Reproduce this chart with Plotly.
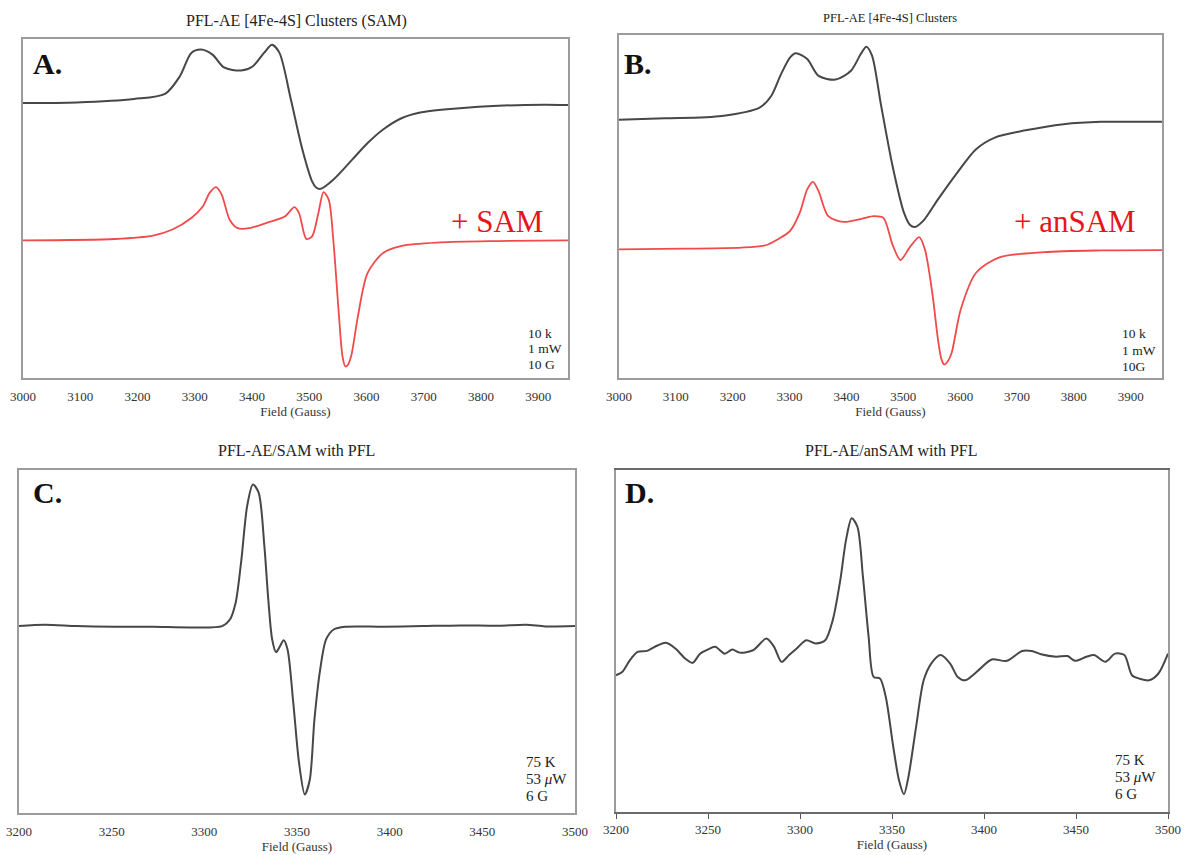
import plotly.graph_objects as go

W, H = 1184, 855
SERIF = "Liberation Serif, Times New Roman, serif"
BLACK_LINE = "#474747"
RED_LINE = "#f04a4a"
RED_TEXT = "#e8141c"
BOX = "#9c9c9c"

# ---------------- Data (intensity in arbitrary units, 0-100 box height) ----
# Panel A: PFL-AE [4Fe-4S] clusters, without / with SAM
a_field_black = [3000, 3094, 3194, 3248, 3274, 3294, 3311, 3331, 3351, 3381,
                 3401, 3421, 3435, 3448, 3468, 3488, 3505, 3512, 3520, 3542, 3575,
                 3602, 3629, 3662, 3696, 3763, 3830, 3910, 3952]
a_black = [81.1, 81.3, 82.3, 83.8, 89.0, 95.9, 96.9, 95.4, 91.6, 90.7,
           91.9, 95.9, 98.3, 95.9, 82.1, 67.4, 58.0, 56.2, 55.8, 58.5, 64.4,
           69.3, 73.3, 76.7, 78.4, 79.6, 80.3, 80.6, 80.5]
a_field_red = [3000, 3161, 3227, 3261, 3294, 3314, 3326, 3337, 3347, 3361,
               3375, 3395, 3428, 3458, 3474, 3482, 3495, 3505, 3516, 3525,
               3534, 3542, 3552, 3558, 3563, 3568, 3574, 3585, 3602, 3629, 3662, 3729,
               3830, 3952]
a_red = [40.6, 41.0, 42.0, 43.8, 47.2, 50.6, 54.6, 56.3, 54.1, 46.7,
         44.2, 44.2, 45.9, 47.7, 50.4, 48.7, 41.0, 41.8, 48.7, 54.8,
         52.6, 40.8, 18.2, 6.5, 3.4, 4.0, 7.0, 18.2, 31.0, 36.9, 39.0, 40.0,
         40.4, 40.6]

# Panel B: PFL-AE [4Fe-4S] clusters, without / with anSAM
b_field_black = [3000, 3081, 3181, 3248, 3268, 3285, 3301, 3311, 3331, 3351,
                 3381, 3408, 3425, 3435, 3445, 3461, 3481, 3501, 3512, 3520, 3535,
                 3561, 3595, 3628, 3661, 3715, 3782, 3848, 3915, 3955]
b_black = [75.3, 75.7, 76.4, 78.9, 82.3, 88.6, 93.5, 94.7, 93.0, 88.1,
           87.0, 89.6, 94.4, 96.6, 94.0, 79.4, 61.9, 48.3, 44.6, 44.0, 45.8,
           52.1, 59.9, 66.7, 70.1, 72.2, 74.0, 74.7, 74.7, 74.7]
b_field_red = [3000, 3115, 3215, 3258, 3281, 3301, 3318, 3331, 3341, 3351,
               3368, 3395, 3428, 3448, 3465, 3481, 3495, 3511, 3528, 3538,
               3551, 3561, 3567, 3572, 3578, 3585, 3601, 3628, 3668, 3748, 3848, 3955]
b_red = [37.5, 37.7, 38.0, 38.7, 40.6, 42.9, 48.2, 55.0, 57.2, 54.5,
         47.2, 45.5, 46.5, 47.2, 46.7, 38.9, 34.4, 38.0, 41.1, 37.5,
         24.8, 11.2, 5.5, 3.9, 4.8, 7.3, 20.0, 30.7, 35.1, 36.7, 37.2, 37.3]

# Panel C: PFL-AE/SAM with PFL
c_field = [3200, 3214, 3231, 3251.5, 3272, 3293, 3309.6, 3313.8, 3316.9, 3320,
           3323.1, 3326.2, 3329.3, 3332.4, 3334.5, 3336.6, 3338.7, 3340.8, 3342.8, 3344.9,
           3348, 3351.1, 3354.2, 3356.9, 3359.4, 3362.5, 3365.7, 3369.8, 3376, 3396.8,
           3417.6, 3438.3, 3459.1, 3473.6, 3484, 3500]
c_signal = [54.5, 54.9, 54.5, 54.3, 54.3, 54.1, 54.5, 56.4, 61.3, 73.9,
            89.5, 95.8, 93.4, 77.8, 62.3, 50.6, 46.9, 48.6, 50.4, 47.7,
            32.1, 14.6, 5.4, 9.7, 27.2, 41.8, 50.6, 53.5, 54.3, 54.3,
            54.5, 54.7, 54.6, 54.9, 54.4, 54.5]

# Panel D: PFL-AE/anSAM with PFL
d_field = [3200, 3203.5, 3207.6, 3211.7, 3216.9, 3221, 3227.2, 3232.3, 3237.5, 3241.6,
           3245.7, 3249.8, 3253.9, 3259.1, 3263.2, 3267.3, 3274.5, 3281.7, 3285.9, 3290,
           3294.1, 3298.2, 3303.4, 3308.5, 3313.7, 3317.8, 3321.9, 3325, 3328.1, 3331.2,
           3334.2, 3337.3, 3340, 3343.5, 3346.6, 3350.7, 3353.8, 3356.5, 3358.9, 3363.1,
           3367.2, 3371.3, 3376.4, 3381.6, 3385.7, 3389.8, 3393.9, 3398.1, 3404.2, 3412.5,
           3420.7, 3425.9, 3431, 3439.2, 3445.4, 3449.5, 3455.7, 3459.8, 3466, 3471.2,
           3476.3, 3480.4, 3484.5, 3489.7, 3494.8, 3500]
d_signal = [40.0, 41.0, 44.4, 46.8, 47.1, 48.3, 49.5, 47.8, 44.9, 43.6,
            46.3, 47.5, 48.3, 46.3, 47.5, 46.6, 47.3, 50.7, 48.3, 43.9,
            45.9, 47.8, 50.2, 49.3, 50.2, 56.1, 67.8, 79.5, 85.9, 83.4,
            68.8, 51.2, 39.5, 39.0, 33.7, 19.0, 9.3, 5.2, 10.2, 24.9,
            38.5, 43.4, 45.9, 43.4, 39.5, 38.5, 40.0, 42.0, 44.6, 44.2,
            47.1, 47.1, 46.1, 45.4, 45.6, 44.2, 45.4, 45.9, 43.9, 46.3,
            45.9, 40.0, 39.0, 38.5, 40.5, 46.3]

titles = ["PFL-AE [4Fe-4S] Clusters (SAM)", "PFL-AE [4Fe-4S] Clusters",
          "PFL-AE/SAM with PFL", "PFL-AE/anSAM with PFL"]
panel_letters = ["A.", "B.", "C.", "D."]
cond_a = ["10 k", "1 mW", "10 G"]
cond_b = ["10 k", "1 mW", "10G"]
cond_c = ["75 K", "53 <i>μ</i>W", "6 G"]
cond_d = ["75 K", "53 <i>μ</i>W", "6 G"]
ticks_top = [3000, 3100, 3200, 3300, 3400, 3500, 3600, 3700, 3800, 3900]
ticks_bottom = [3200, 3250, 3300, 3350, 3400, 3450, 3500]
x_title = "Field (Gauss)"


# ---------------- Layout helpers (screen pixel -> paper; body margin removed below) ----------
def px(x):
    return x / W


def py(y):
    return 1 - y / H


fig = go.Figure()

def line(xs, ys, color, axis, width=2.0):
    fig.add_trace(go.Scatter(x=xs, y=ys, mode="lines", xaxis="x" + axis, yaxis="y" + axis,
                             line=dict(color=color, width=width, shape="spline", smoothing=0.8),
                             hoverinfo="skip", showlegend=False))

line(a_field_black, a_black, BLACK_LINE, "")
line(a_field_red, a_red, RED_LINE, "", 1.8)
line(b_field_black, b_black, BLACK_LINE, "2")
line(b_field_red, b_red, RED_LINE, "2", 1.8)
line(c_field, c_signal, BLACK_LINE, "3")
line(d_field, d_signal, BLACK_LINE, "4")

# boxes in screen pixels: (left, right, top, bottom)
boxes = {
    "": (23, 568, 39, 378),
    "2": (619, 1162, 35, 378),
    "3": (19, 575, 470, 813),
    "4": (616, 1168, 470, 812),
}
ranges = {"": [3000, 3952], "2": [3000, 3955], "3": [3200, 3500], "4": [3200, 3500]}
tickv = {"": ticks_top, "2": ticks_top, "3": ticks_bottom, "4": ticks_bottom}

layout = dict(
    width=W, height=H, margin=dict(l=0, r=0, t=0, b=0, autoexpand=False),
    paper_bgcolor="white", plot_bgcolor="white",
    font=dict(family=SERIF, color="#222"),
    showlegend=False,
)
for key, (l, r, t, b) in boxes.items():
    d4 = key == "4"
    layout["xaxis" + key] = dict(
        domain=[px(l), px(r)], range=ranges[key], anchor="y" + key, automargin=False,
        tickvals=tickv[key], showgrid=False, zeroline=False, ticklabeloverflow="allow",
        showline=True, mirror=True, linecolor="#6a6a6a" if d4 else BOX, linewidth=1.5,
        ticks="outside", ticklen=5 if d4 else 6,
        tickcolor="#555" if d4 else "rgba(0,0,0,0)", tickwidth=1,
        tickfont=dict(family=SERIF, size=13, color="#333"),
        title=dict(text=x_title, font=dict(family=SERIF, size=13, color="#333"), standoff=3),
    )
    layout["yaxis" + key] = dict(
        domain=[py(b), py(t)], range=[0, 100], anchor="x" + key, automargin=False,
        showticklabels=False, ticks="", showgrid=False, zeroline=False,
        showline=True, mirror=True, linecolor=BOX, linewidth=1.5,
    )
fig.update_layout(**layout)

ann = []
def text(x, y, s, size, color="#222", bold=False, xanchor="center"):
    ann.append(dict(x=px(x), y=py(y), xref="paper", yref="paper", text=("<b>%s</b>" % s) if bold else s,
                    showarrow=False, xanchor=xanchor, yanchor="middle",
                    font=dict(family=SERIF, size=size, color=color)))

# titles
text(296, 21, titles[0], 16)
text(890, 18, titles[1], 12.5)
text(296, 450, titles[2], 16)
text(891, 450, titles[3], 16)
# panel letters
text(47, 63, panel_letters[0], 30, "#111", True)
text(638, 63, panel_letters[1], 30, "#111", True)
text(47, 492, panel_letters[2], 30, "#111", True)
text(639, 492, panel_letters[3], 30, "#111", True)
# red labels
text(497, 222, "+ SAM", 31, RED_TEXT)
text(1075, 221, "+ anSAM", 31, RED_TEXT)
# acquisition conditions
for i, s in enumerate(cond_a):
    text(526, 333 + 15.5 * i, s, 13.5, xanchor="left")
for i, s in enumerate(cond_b):
    text(1120, 334 + 16 * i, s, 13.5, xanchor="left")
for i, s in enumerate(cond_c):
    text(524, 762 + 17 * i, s, 15, xanchor="left")
for i, s in enumerate(cond_d):
    text(1113, 760 + 17 * i, s, 15, xanchor="left")

fig.update_layout(annotations=ann)
fig.write_html(
    "out.html",
    config={"displayModeBar": False},
    post_script="document.body.style.margin='0';document.body.style.overflow='hidden';",
)
